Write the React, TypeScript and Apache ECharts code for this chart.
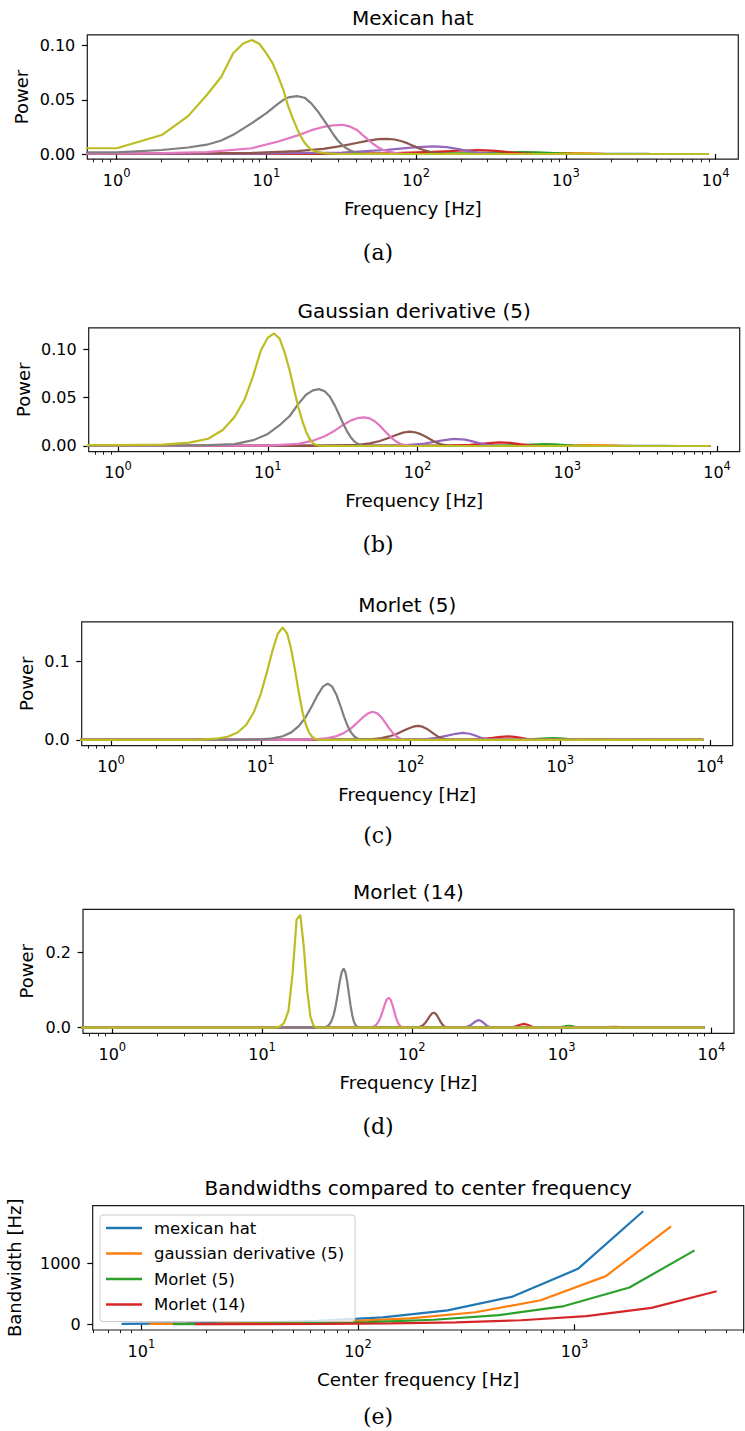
import React, { useEffect, useRef } from "react";
import * as echarts from "echarts";

// ---------------- DATA ----------------
// Power spectra: [frequency Hz, power]; colours follow the plotting order (C0 .. C8)

// (a) Mexican hat
const mexBlue = [[0.6, 0], [512, 0.00002], [1024, 0.0001], [1536, 0.00017], [2074, 0.0002], [2800, 0.00014], [3600, 0.00005], [4800, 0], [9000, 0]];
const mexOrange = [[0.6, 0], [256, 0.0001], [512, 0.00045], [768, 0.00075], [1037, 0.00088], [1400, 0.0006], [1800, 0.0002], [2400, 0], [9000, 0]];
const mexGreen = [[0.6, 0], [64, 0.0001], [256, 0.0009], [384, 0.0015], [518, 0.00175], [640, 0.0015], [768, 0.001], [900, 0.0005], [1100, 0.0001], [1400, 0], [9000, 0]];
const mexRed = [[0.6, 0], [16, 0.0002], [64, 0.0007], [128, 0.0019], [192, 0.003], [259, 0.0035], [320, 0.0031], [384, 0.0022], [448, 0.0013], [512, 0.0007], [600, 0.0002], [720, 0], [9000, 0]];
const mexPurple = [[0.6, 0.0001], [8, 0.0003], [32, 0.0014], [64, 0.0038], [96, 0.0062], [130, 0.007], [160, 0.0063], [192, 0.0045], [224, 0.0027], [256, 0.0014], [300, 0.0005], [360, 0.0001], [420, 0], [9000, 0]];
const mexBrown = [[0.6, 0.0002], [4, 0.0005], [8, 0.001], [16, 0.0027], [24, 0.0048], [32, 0.0075], [40, 0.0102], [48, 0.0124], [56, 0.0137], [64, 0.014], [72, 0.0134], [80, 0.0118], [88, 0.0098], [96, 0.0075], [104, 0.0054], [112, 0.0037], [120, 0.0024], [128, 0.0015], [144, 0.0005], [160, 0.0001], [200, 0], [9000, 0]];
const mexPink = [[0.6, 0.0003], [2, 0.0008], [4, 0.0017], [8, 0.0053], [12, 0.0115], [16, 0.017], [20, 0.022], [24, 0.025], [28, 0.0265], [32, 0.027], [36, 0.0255], [40, 0.0225], [44, 0.0175], [48, 0.013], [52, 0.009], [56, 0.006], [60, 0.004], [64, 0.0025], [72, 0.001], [80, 0.0003], [96, 0], [9000, 0]];
const mexGray = [[0.6, 0.0015], [1, 0.0015], [2, 0.0037], [3, 0.006], [4, 0.0086], [5, 0.0125], [6, 0.0177], [8, 0.0285], [10, 0.0378], [12, 0.0465], [13, 0.05], [14, 0.0523], [16, 0.0535], [18, 0.052], [20, 0.0465], [22, 0.0395], [24, 0.032], [26, 0.025], [28, 0.018], [30, 0.0125], [32, 0.0085], [34, 0.0055], [36, 0.0035], [38, 0.002], [40, 0.0012], [44, 0.0004], [50, 0], [9000, 0]];
const mexOlive = [[0.6, 0.0053], [1, 0.0053], [2, 0.0175], [3, 0.035], [4, 0.0545], [5, 0.0714], [6, 0.093], [7, 0.102], [8, 0.1053], [9, 0.1016], [10, 0.093], [11, 0.084], [12, 0.0714], [13, 0.059], [14, 0.0437], [15, 0.033], [16, 0.0236], [17, 0.016], [18, 0.0104], [19, 0.0067], [20, 0.0037], [22, 0.002], [25, 0.0005], [30, 0], [9000, 0]];

// (b) Gaussian derivative (5)
const gdBlue = [[0.6, 0], [1300, 0.00002], [2000, 0.0001], [2790, 0.0002], [3600, 0.00015], [4400, 0.00006], [5600, 0], [9000, 0]];
const gdOrange = [[0.6, 0], [640, 0.0001], [1000, 0.0005], [1395, 0.0009], [1800, 0.0007], [2200, 0.0003], [2800, 0], [9000, 0]];
const gdGreen = [[0.6, 0], [320, 0.0002], [448, 0.0007], [576, 0.0014], [698, 0.00185], [832, 0.0016], [960, 0.001], [1100, 0.0004], [1400, 0], [9000, 0]];
const gdRed = [[0.6, 0], [160, 0.0003], [224, 0.0013], [288, 0.0028], [349, 0.0037], [416, 0.0032], [480, 0.002], [544, 0.001], [640, 0.0002], [800, 0], [9000, 0]];
const gdPurple = [[0.6, 0], [48, 0.0001], [80, 0.0006], [112, 0.0026], [144, 0.0055], [174, 0.0074], [208, 0.0066], [240, 0.0042], [272, 0.002], [304, 0.0008], [352, 0.0001], [420, 0], [9000, 0]];
const gdBrown = [[0.6, 0.0001], [24, 0.0002], [40, 0.0012], [48, 0.0027], [56, 0.0052], [64, 0.0082], [72, 0.0113], [80, 0.0138], [88, 0.0148], [96, 0.0142], [104, 0.0125], [112, 0.01], [120, 0.0074], [128, 0.005], [136, 0.0031], [144, 0.0018], [160, 0.0004], [180, 0], [9000, 0]];
const gdPink = [[0.6, 0.0002], [10, 0.0004], [16, 0.0022], [20, 0.0055], [24, 0.01], [28, 0.0158], [32, 0.022], [36, 0.0265], [40, 0.0289], [44, 0.0296], [48, 0.0285], [52, 0.0253], [56, 0.021], [60, 0.016], [64, 0.0115], [68, 0.0076], [72, 0.0046], [76, 0.0026], [80, 0.0014], [88, 0.0003], [100, 0], [9000, 0]];
const gdGray = [[0.6, 0.0004], [4, 0.0008], [6, 0.002], [8, 0.006], [10, 0.0125], [12, 0.0215], [14, 0.031], [16, 0.0435], [18, 0.053], [20, 0.0575], [22, 0.0588], [24, 0.0565], [26, 0.051], [28, 0.042], [30, 0.032], [32, 0.0225], [34, 0.0145], [36, 0.0085], [38, 0.0045], [40, 0.0022], [42, 0.001], [44, 0.0004], [48, 0], [9000, 0]];
const gdOlive = [[0.6, 0.0008], [1, 0.0008], [2, 0.0015], [3, 0.0035], [4, 0.0075], [5, 0.0165], [6, 0.03], [7, 0.048], [8, 0.073], [9, 0.099], [10, 0.112], [11, 0.1163], [12, 0.111], [13, 0.096], [14, 0.078], [15, 0.058], [16, 0.04], [17, 0.026], [18, 0.015], [19, 0.0075], [20, 0.003], [21, 0.001], [22, 0.0003], [24, 0], [9000, 0]];

// (c) Morlet (5)
const m5Blue = [[0.6, 0], [2048, 0.00007], [2432, 0.0002], [2816, 0.00033], [3200, 0.0005], [3584, 0.00055], [3968, 0.0005], [4352, 0.00033], [4736, 0.0002], [5120, 0.00007], [6000, 0], [9000, 0]];
const m5Orange = [[0.6, 0], [1024, 0.00015], [1216, 0.0004], [1408, 0.0007], [1600, 0.001], [1792, 0.0011], [1984, 0.001], [2176, 0.0007], [2368, 0.0004], [2560, 0.00015], [3000, 0], [9000, 0]];
const m5Green = [[0.6, 0], [416, 0.0001], [512, 0.0003], [608, 0.0007], [704, 0.0014], [800, 0.002], [896, 0.00225], [992, 0.002], [1088, 0.0014], [1184, 0.0007], [1280, 0.0003], [1500, 0], [9000, 0]];
const m5Red = [[0.6, 0], [208, 0.0001], [256, 0.0006], [304, 0.0015], [352, 0.0027], [400, 0.004], [448, 0.0045], [496, 0.004], [544, 0.0027], [592, 0.0015], [640, 0.0006], [736, 0.0001], [800, 0], [9000, 0]];
const m5Purple = [[0.6, 0], [80, 0.0001], [104, 0.0004], [128, 0.0012], [152, 0.0029], [176, 0.0055], [200, 0.0079], [224, 0.009], [248, 0.0079], [272, 0.0055], [296, 0.0029], [320, 0.0012], [344, 0.0004], [368, 0.0001], [400, 0], [9000, 0]];
const m5Brown = [[0.6, 0], [40, 0.0002], [48, 0.0005], [56, 0.0012], [64, 0.0024], [72, 0.0045], [80, 0.0074], [88, 0.011], [96, 0.0144], [104, 0.017], [112, 0.018], [120, 0.017], [128, 0.0144], [136, 0.011], [144, 0.0074], [152, 0.0045], [160, 0.0024], [168, 0.0012], [176, 0.0005], [184, 0.0002], [200, 0], [9000, 0]];
const m5Pink = [[0.6, 0], [20, 0.0004], [24, 0.001], [28, 0.0024], [32, 0.0049], [36, 0.009], [40, 0.0148], [44, 0.0219], [48, 0.0288], [52, 0.034], [56, 0.036], [60, 0.034], [64, 0.0288], [68, 0.0219], [72, 0.0148], [76, 0.009], [80, 0.0049], [84, 0.0024], [88, 0.001], [92, 0.0004], [100, 0], [9000, 0]];
const m5Gray = [[0.6, 0], [8, 0.0003], [10, 0.0008], [12, 0.0021], [14, 0.0047], [16, 0.0097], [18, 0.0179], [20, 0.0296], [22, 0.0437], [24, 0.0577], [26, 0.0681], [28, 0.072], [30, 0.0681], [32, 0.0577], [34, 0.0437], [36, 0.0296], [38, 0.0179], [40, 0.0097], [42, 0.0047], [44, 0.0021], [46, 0.0008], [48, 0.0003], [52, 0], [9000, 0]];
const m5Olive = [[0.6, 0], [3, 0.0001], [4, 0.0004], [5, 0.0016], [6, 0.0041], [7, 0.0095], [8, 0.0194], [9, 0.0358], [10, 0.059], [11, 0.087], [12, 0.115], [13, 0.136], [14, 0.1437], [15, 0.136], [16, 0.115], [17, 0.087], [18, 0.059], [19, 0.0358], [20, 0.0194], [21, 0.0095], [22, 0.0041], [23, 0.0016], [24, 0.0005], [26, 0], [9000, 0]];

// (d) Morlet (14)
const m14Blue = [[0.6, 0], [3500, 0], [3712, 0.00013], [3968, 0.00045], [4224, 0.001], [4480, 0.00125], [4736, 0.001], [4992, 0.00045], [5248, 0.00013], [5600, 0], [9000, 0]];
const m14Orange = [[0.6, 0], [1700, 0], [1856, 0.0003], [1984, 0.0009], [2112, 0.002], [2240, 0.0025], [2368, 0.002], [2496, 0.0009], [2624, 0.0003], [2800, 0], [9000, 0]];
const m14Green = [[0.6, 0], [800, 0], [864, 0.0001], [928, 0.0005], [992, 0.0018], [1056, 0.0039], [1120, 0.005], [1184, 0.0039], [1248, 0.0018], [1312, 0.0005], [1376, 0.0001], [1440, 0], [9000, 0]];
const m14Red = [[0.6, 0], [400, 0], [432, 0.0002], [464, 0.001], [496, 0.0037], [528, 0.0078], [560, 0.01], [592, 0.0078], [624, 0.0037], [656, 0.001], [688, 0.0002], [720, 0], [9000, 0]];
const m14Purple = [[0.6, 0], [200, 0], [216, 0.0004], [232, 0.0021], [248, 0.0074], [264, 0.0156], [272, 0.0186], [280, 0.02], [288, 0.0186], [296, 0.0156], [312, 0.0074], [328, 0.0021], [344, 0.0004], [360, 0], [9000, 0]];
const m14Brown = [[0.6, 0], [100, 0], [108, 0.0007], [112, 0.0019], [116, 0.0042], [120, 0.0084], [124, 0.0147], [128, 0.0228], [132, 0.0312], [136, 0.0376], [140, 0.04], [144, 0.0376], [148, 0.0312], [152, 0.0228], [156, 0.0147], [160, 0.0084], [164, 0.0042], [168, 0.0019], [172, 0.0007], [180, 0], [9000, 0]];
const m14Pink = [[0.6, 0], [50, 0], [54, 0.0015], [56, 0.0037], [58, 0.0084], [60, 0.0168], [62, 0.0294], [64, 0.0456], [66, 0.0623], [68, 0.0752], [70, 0.08], [72, 0.0752], [74, 0.0623], [76, 0.0456], [78, 0.0294], [80, 0.0168], [82, 0.0084], [84, 0.0037], [86, 0.0015], [90, 0], [9000, 0]];
const m14Gray = [[0.6, 0], [26, 0], [27, 0.0029], [28, 0.0074], [29, 0.0166], [30, 0.033], [31, 0.058], [32, 0.09], [33, 0.123], [34, 0.148], [35, 0.158], [36, 0.148], [37, 0.123], [38, 0.09], [39, 0.058], [40, 0.033], [41, 0.0166], [42, 0.0074], [43, 0.0029], [44, 0.001], [46, 0], [9000, 0]];
const m14Olive = [[0.6, 0], [12, 0], [13, 0.002], [14, 0.012], [15, 0.045], [16, 0.146], [17, 0.288], [18, 0.3007], [19, 0.215], [20, 0.1], [21, 0.03], [22, 0.006], [23, 0.0008], [24, 0], [9000, 0]];

// (e) Bandwidth vs center frequency
const bwNames = ["mexican hat", "gaussian derivative (5)", "Morlet (5)", "Morlet (14)"];
const bwMexicanHat = [[8.1, 7.2], [16.2, 14.4], [32.4, 28.8], [64.8, 57.6], [130, 115], [259, 228], [518, 455], [1037, 910], [2074, 1853]];
const bwGaussian = [[10.9, 6.2], [21.8, 12.4], [43.6, 24.8], [87.2, 49.5], [174, 99], [349, 198], [698, 395], [1395, 790], [2790, 1605]];
const bwMorlet5 = [[14, 4.7], [28, 9.4], [56, 18.8], [112, 37.6], [224, 75], [448, 150], [896, 300], [1792, 603], [3584, 1212]];
const bwMorlet14 = [[17.7, 2.1], [35.4, 4.2], [71, 8.4], [142, 16.8], [283, 33.6], [566, 67], [1133, 135], [2266, 271], [4531, 543]];

// Tick values
const FREQ_MAJOR = [1, 10, 100, 1000, 10000];
const FREQ_MINOR = [0.7, 0.8, 0.9, 2, 3, 4, 5, 6, 7, 8, 9, 20, 30, 40, 50, 60, 70, 80, 90, 200, 300, 400, 500, 600, 700, 800, 900, 2000, 3000, 4000, 5000, 6000, 7000, 8000, 9000];
const CF_MAJOR = [10, 100, 1000];
const CF_MINOR = [6, 7, 8, 9, 20, 30, 40, 50, 60, 70, 80, 90, 200, 300, 400, 500, 600, 700, 800, 900, 2000, 3000, 4000, 5000, 6000];

const titles = ["Mexican hat", "Gaussian derivative (5)", "Morlet (5)", "Morlet (14)", "Bandwidths compared to center frequency"];
const panelLetters = ["(a)", "(b)", "(c)", "(d)", "(e)"];
const powerSeries = [
  [mexBlue, mexOrange, mexGreen, mexRed, mexPurple, mexBrown, mexPink, mexGray, mexOlive],
  [gdBlue, gdOrange, gdGreen, gdRed, gdPurple, gdBrown, gdPink, gdGray, gdOlive],
  [m5Blue, m5Orange, m5Green, m5Red, m5Purple, m5Brown, m5Pink, m5Gray, m5Olive],
  [m14Blue, m14Orange, m14Green, m14Red, m14Purple, m14Brown, m14Pink, m14Gray, m14Olive],
];
const bwSeries = [bwMexicanHat, bwGaussian, bwMorlet5, bwMorlet14];
const yTickValues = [[0, 0.05, 0.1], [0, 0.05, 0.1], [0, 0.1], [0, 0.2], [0, 1000]];
const yDigits = [2, 2, 1, 1, 0];

// ---------------- LAYOUT / STYLE ----------------
const TAB10 = ["#1f77b4", "#ff7f0e", "#2ca02c", "#d62728", "#9467bd", "#8c564b", "#e377c2", "#7f7f7f", "#bcbd22"];
const FONT = "DejaVu Sans";
const SERIF = "DejaVu Serif";
const INK = "#000000";
const GRIDS = [
  { left: 87.3, top: 34.8, width: 651, height: 124.4 },
  { left: 88.7, top: 327.9, width: 651, height: 123.7 },
  { left: 81.7, top: 621.8, width: 651, height: 123.8 },
  { left: 83, top: 909.3, width: 651, height: 124 },
  { left: 92.7, top: 1205.6, width: 651, height: 124.4 },
];
const Y_RANGES = [[-0.0048, 0.1101], [-0.0058, 0.1221], [-0.0072, 0.151], [-0.015, 0.3157], [-92.6, 1946]];
const X_RANGES = [[0.637, 14160], [0.637, 14160], [0.637, 14160], [0.637, 14160], [5.96, 6040]];
const YLABEL_X = [21.5, 23, 26.5, 26.7, 14.5];
const LETTER_Y = [252, 544, 835, 1126.7, 1416.7];
const xNames = ["Frequency [Hz]", "Frequency [Hz]", "Frequency [Hz]", "Frequency [Hz]", "Center frequency [Hz]"];
const yNames = ["Power", "Power", "Power", "Power", "Bandwidth [Hz]"];

function buildOption() {
  const grid: any[] = [];
  const xAxis: any[] = [];
  const yAxis: any[] = [];
  const series: any[] = [];
  const graphic: any[] = [];

  GRIDS.forEach((g, i) => {
    grid.push({ ...g, show: true, borderColor: "#1a1a1a", borderWidth: 1.2, backgroundColor: "transparent", containLabel: false, outerBoundsMode: "none" });
    const major = i < 4 ? FREQ_MAJOR : CF_MAJOR;
    const minor = i < 4 ? FREQ_MINOR : CF_MINOR;
    const [xmin, xmax] = X_RANGES[i];
    xAxis.push({
      gridIndex: i, type: "log", logBase: 10, min: xmin, max: xmax, position: "bottom",
      axisLine: { show: false }, splitLine: { show: false }, minorTick: { show: false },
      axisTick: { show: true, customValues: major, length: 5.4, lineStyle: { color: INK, width: 1.2 } },
      axisLabel: {
        show: true, customValues: major, margin: 8,
        formatter: (v: number) => "{b|10}{s|" + Math.round(Math.log10(v)) + "}",
        rich: {
          b: { fontFamily: FONT, fontSize: 16, color: INK, lineHeight: 26 },
          s: { fontFamily: FONT, fontSize: 11.5, color: INK, lineHeight: 12, verticalAlign: "top" },
        },
      },
    });
    xAxis.push({
      gridIndex: i, type: "log", logBase: 10, min: xmin, max: xmax, position: "bottom",
      axisLine: { show: false }, splitLine: { show: false }, minorTick: { show: false },
      axisTick: { show: true, customValues: minor, length: 3.1, lineStyle: { color: INK, width: 0.9 } },
      axisLabel: { show: false },
    });
    const [ymin, ymax] = Y_RANGES[i];
    yAxis.push({
      gridIndex: i, type: "value", min: ymin, max: ymax,
      axisLine: { show: false }, splitLine: { show: false },
      axisTick: { show: true, customValues: yTickValues[i], length: 5.4, lineStyle: { color: INK, width: 1.2 } },
      axisLabel: {
        show: true, customValues: yTickValues[i], margin: 12,
        fontFamily: FONT, fontSize: 16, color: INK,
        formatter: (v: number) => v.toFixed(yDigits[i]),
      },
    });

    // texts
    const cx = g.left + g.width / 2;
    graphic.push({ type: "text", x: cx, y: g.top - 17.3, silent: true, style: { text: titles[i], fontFamily: FONT, fontSize: 20, fill: INK, align: "center", verticalAlign: "middle" } });
    graphic.push({ type: "text", x: cx, y: g.top + g.height + 49, silent: true, style: { text: xNames[i], fontFamily: FONT, fontSize: 18.3, fill: INK, align: "center", verticalAlign: "middle" } });
    graphic.push({ type: "text", x: YLABEL_X[i], y: g.top + g.height / 2, rotation: Math.PI / 2, silent: true, style: { text: yNames[i], fontFamily: FONT, fontSize: 18, fill: INK, align: "center", verticalAlign: "middle" } });
    graphic.push({ type: "text", x: 378, y: LETTER_Y[i], silent: true, style: { text: panelLetters[i], fontFamily: SERIF, fontSize: 22, fill: INK, align: "center", verticalAlign: "middle" } });
  });

  powerSeries.forEach((list, p) => {
    list.forEach((data, k) => {
      series.push({
        type: "line", name: "p" + p + "s" + k, xAxisIndex: 2 * p, yAxisIndex: p, data,
        symbol: "none", showSymbol: false, clip: true, silent: true,
        lineStyle: { width: 2.2, color: TAB10[k] }, itemStyle: { color: TAB10[k] },
      });
    });
  });
  bwSeries.forEach((data, k) => {
    series.push({
      type: "line", name: bwNames[k], xAxisIndex: 8, yAxisIndex: 4, data,
      symbol: "none", showSymbol: false, clip: true, silent: true,
      lineStyle: { width: 2.2, color: TAB10[k] }, itemStyle: { color: TAB10[k] },
    });
  });

  return {
    animation: false,
    backgroundColor: "#ffffff",
    grid, xAxis, yAxis, series, graphic,
    legend: {
      data: bwNames, left: 100, top: 1215, orient: "vertical",
      icon: "rect", itemWidth: 36, itemHeight: 2.5, itemGap: 7.5,
      padding: [4, 11, 8, 6], borderColor: "#cccccc", borderWidth: 1, borderRadius: 3,
      backgroundColor: "rgba(255,255,255,0.8)", selectedMode: false, z: 10,
      textStyle: { fontFamily: FONT, fontSize: 16.5, color: INK, lineHeight: 18, padding: [0, 0, 0, 7] },
    },
  };
}

export default function App() {
  const ref = useRef<HTMLDivElement>(null);
  useEffect(() => {
    const chart = echarts.init(ref.current!, null, { renderer: "svg" });
    chart.setOption(buildOption() as any);
    return () => chart.dispose();
  }, []);
  return (
    <div
      ref={ref}
      style={{ position: "absolute", left: 0, top: 0, width: 745, height: 1431, background: "#ffffff" }}
    />
  );
}
